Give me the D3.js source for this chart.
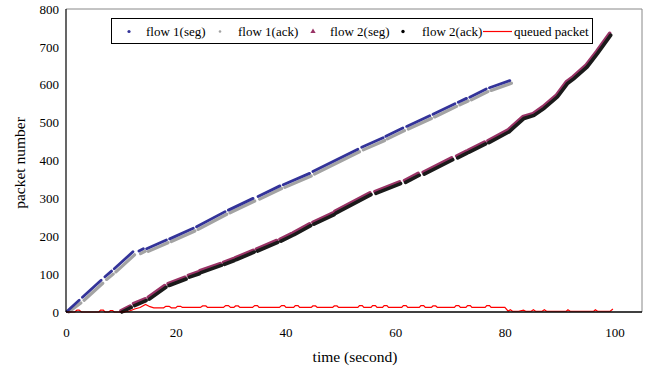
<!DOCTYPE html>
<html lang="en">
  <head>
    <meta charset="UTF-8" />
    <title>packet number vs time</title>
    <script src="https://cdn.jsdelivr.net/npm/d3@7"></script>
    <style>
      body { margin: 0; background: #fff; }
      text { font-family: "Liberation Serif", "Times New Roman", serif; fill: #000; }
    </style>
  </head>
  <body>
    <script>
    // ---- data (null = gap between dashes) ----
    const xTicks = [0, 20, 40, 60, 80, 100];
    const yTicks = [0, 100, 200, 300, 400, 500, 600, 700, 800];

    const flow1SegTime  = [0.2, 2.4, null, 3.0, 6.4, null, 7.1, 8.3, null, 8.8, 12.2, null, 13.3, 14.1, null, 14.7, 18.3, null, 18.9, 23.2, null, 23.8, 29.0, null, 29.6, 34.1, null, 35.0, 39.0, null, 39.6, 44.4, null, 45.0, 53.2, null, 53.9, 57.8, null, 58.3, 61.4, null, 62.1, 66.3, null, 66.9, 70.9, null, 71.5, 73.0, null, 73.6, 76.6, null, 77.2, 80.9];
    const flow1SegValue = [2, 31, null, 39, 84, null, 93, 108, null, 114, 159, null, 161, 167, null, 167, 190, null, 193, 221, null, 225, 265, null, 269, 300, null, 305, 333, null, 336, 366, null, 371, 430, null, 435, 460, null, 464, 486, null, 490, 518, null, 522, 550, null, 554, 564, null, 567, 589, null, 592, 611];

    const flow1AckTime  = [0.5, 2.7, null, 3.3, 6.7, null, 7.4, 8.6, null, 9.1, 12.5, null, 13.6, 14.4, null, 15.0, 18.6, null, 19.2, 23.5, null, 24.1, 29.3, null, 29.9, 34.4, null, 35.3, 39.3, null, 39.9, 44.7, null, 45.3, 53.5, null, 54.2, 58.1, null, 58.6, 61.7, null, 62.4, 66.6, null, 67.2, 71.2, null, 71.8, 73.3, null, 73.9, 76.9, null, 77.5, 81.2];
    const flow1AckValue = [0, 24, null, 31, 76, null, 86, 100, null, 106, 151, null, 154, 160, null, 160, 183, null, 186, 214, null, 218, 258, null, 262, 293, null, 298, 326, null, 329, 359, null, 364, 423, null, 428, 453, null, 457, 479, null, 483, 511, null, 515, 543, null, 547, 557, null, 560, 582, null, 585, 604];

    const flow2SegTime  = [10.0, 11.7, null, 12.3, 14.4, null, 15.0, 18.0, null, 18.6, 21.7, null, 22.3, 24.1, null, 24.4, 28.1, null, 28.7, 30.5, null, 30.8, 34.1, null, 34.7, 38.4, null, 39.0, 41.1, null, 41.4, 44.4, null, 45.0, 48.7, null, 49.0, 55.4, null, 56.3, 60.8, null, 61.7, 64.2, null, 65.1, 70.3, null, 71.2, 73.0, null, 73.3, 76.3, null, 76.9, 80.6, 81.2, 83.3, 85.1, 86.9, 89.4, 91.2, 92.4, 94.8, 96.7, 99.1];
    const flow2SegValue = [3, 16, null, 22, 35, null, 39, 70, null, 75, 92, null, 97, 106, null, 109, 128, null, 131, 141, null, 143, 163, null, 166, 189, null, 192, 207, null, 209, 233, null, 237, 262, null, 266, 315, null, 318, 344, null, 347, 366, null, 369, 407, null, 412, 425, null, 427, 449, null, 452, 481, 489, 516, 524, 542, 573, 608, 621, 652, 688, 736];

    const flow2AckTime  = [10.2, 11.9, null, 12.5, 14.6, null, 15.2, 18.2, null, 18.8, 21.9, null, 22.5, 24.3, null, 24.6, 28.3, null, 28.9, 30.7, null, 31.0, 34.3, null, 34.9, 38.6, null, 39.2, 41.3, null, 41.6, 44.6, null, 45.2, 48.9, null, 49.2, 55.6, null, 56.5, 61.0, null, 61.9, 64.4, null, 65.3, 70.5, null, 71.4, 73.2, null, 73.5, 76.5, null, 77.1, 80.8, 81.4, 83.5, 85.3, 87.1, 89.6, 91.4, 92.6, 95.0, 96.9, 99.3];
    const flow2AckValue = [0, 12, null, 17, 30, null, 34, 65, null, 70, 87, null, 92, 101, null, 104, 123, null, 126, 136, null, 138, 158, null, 161, 184, null, 187, 202, null, 204, 228, null, 232, 257, null, 261, 310, null, 313, 339, null, 342, 361, null, 364, 402, null, 407, 420, null, 422, 444, null, 447, 476, 484, 511, 519, 537, 568, 603, 616, 647, 683, 731];

    const queueTime  = [0, 1.6, 2.0, 2.4, 2.8, 6.0, 6.3, 6.8, 7.1, 7.8, 8.1, 8.5, 8.8, 10.5, 11.5, 12.5, 13.5, 14.5, 15.3, 16.0, 17.8, 18.2, 18.8, 19.2, 20.0, 20.3, 20.9, 21.2, 24.5, 24.9, 25.5, 25.8, 28.7, 29.1, 29.6, 30.0, 30.6, 30.9, 31.4, 31.7, 34.0, 34.4, 34.9, 35.2, 38.9, 39.3, 39.8, 40.1, 41.5, 41.8, 42.3, 42.6, 44.7, 45.0, 45.5, 45.8, 48.6, 48.9, 49.4, 49.7, 53.2, 53.5, 54.0, 54.3, 55.6, 55.9, 56.4, 56.7, 57.7, 58.0, 58.5, 58.8, 61.2, 61.5, 62.0, 62.3, 64.4, 64.7, 65.2, 65.5, 66.6, 66.9, 67.4, 67.7, 70.8, 71.1, 71.6, 71.9, 72.9, 73.2, 73.7, 74.0, 76.4, 76.7, 77.2, 77.5, 80.0, 80.6, 81.0, 81.4, 82.5, 83.4, 83.8, 84.8, 85.2, 85.6, 86.8, 87.2, 87.6, 91.2, 91.5, 91.9, 96.2, 96.5, 96.9, 99.2, 99.7];
    const queueValue = [0, 0, 5, 5, 0, 0, 5, 5, 0, 0, 4, 4, 0, 0, 2, 8, 12, 20, 14, 11, 11, 15, 15, 11, 11, 15, 15, 12, 12, 16, 16, 12, 12, 17, 17, 12, 12, 16, 16, 12, 12, 17, 17, 12, 12, 17, 17, 12, 12, 17, 17, 12, 12, 16, 16, 12, 12, 16, 16, 12, 12, 17, 17, 12, 12, 17, 17, 12, 12, 17, 17, 12, 12, 17, 17, 12, 12, 17, 17, 12, 12, 16, 16, 12, 12, 17, 17, 12, 12, 17, 17, 12, 12, 17, 17, 12, 12, 2, 6, 2, 2, 5, 2, 2, 6, 2, 2, 6, 2, 2, 6, 2, 2, 6, 2, 2, 8];

    const legendNames = ["flow 1(seg)", "flow 1(ack)", "flow 2(seg)", "flow 2(ack)", "queued packet"];

    // ---- chart ----
    const W = 656, H = 370;
    const svg = d3.select("body").append("svg").attr("width", W).attr("height", H);

    const x = d3.scaleLinear().domain([0, 105]).range([66, 642]);
    const y = d3.scaleLinear().domain([0, 800]).range([312, 9]);

    // frame: grey top/right, black left/bottom
    svg.append("line").attr("x1", x(0)).attr("x2", x(105)).attr("y1", y(800)).attr("y2", y(800))
      .style("stroke", "#888").style("stroke-width", 1);
    svg.append("line").attr("x1", x(105)).attr("x2", x(105)).attr("y1", y(800)).attr("y2", y(0))
      .style("stroke", "#888").style("stroke-width", 1);

    const zip = (ts, vs) => ts.map((t, i) => (t === null ? null : [t, vs[i]]));
    const line = d3.line().defined(d => d !== null).x(d => x(d[0])).y(d => y(d[1]));

    // flow 1 ack (grey) then seg (blue)
    svg.append("path").datum(zip(flow1AckTime, flow1AckValue)).attr("d", line)
      .style("fill", "none").style("stroke", "#a3a3a3").style("stroke-width", 3.2).style("stroke-linecap", "round");
    svg.append("path").datum(zip(flow1SegTime, flow1SegValue)).attr("d", line)
      .style("fill", "none").style("stroke", "#333399").style("stroke-width", 2.8).style("stroke-linecap", "round");

    // flow 2 seg (magenta) then ack (black)
    svg.append("path").datum(zip(flow2SegTime, flow2SegValue)).attr("d", line)
      .style("fill", "none").style("stroke", "#993366").style("stroke-width", 3.4).style("stroke-linecap", "round");
    svg.append("path").datum(zip(flow2AckTime, flow2AckValue)).attr("d", line)
      .style("fill", "none").style("stroke", "#1a1a1a").style("stroke-width", 3.6).style("stroke-linecap", "round");

    // queued packets
    svg.append("path").datum(zip(queueTime, queueValue)).attr("d", line)
      .style("fill", "none").style("stroke", "#ff0000").style("stroke-width", 1.2);

    // axes lines
    svg.append("line").attr("x1", x(0)).attr("x2", x(0)).attr("y1", y(800)).attr("y2", y(0))
      .style("stroke", "#000").style("stroke-width", 1.2);
    svg.append("line").attr("x1", x(0)).attr("x2", x(105)).attr("y1", y(0)).attr("y2", y(0))
      .style("stroke", "#000").style("stroke-width", 1.6);

    // tick labels
    const gx = svg.append("g").attr("transform", "translate(0," + y(0) + ")")
      .call(d3.axisBottom(x).tickValues(xTicks).tickSize(0).tickPadding(16));
    const gy = svg.append("g").attr("transform", "translate(" + x(0) + ",0)")
      .call(d3.axisLeft(y).tickValues(yTicks).tickSize(0).tickPadding(7));
    [gx, gy].forEach(g => {
      g.select(".domain").remove();
      g.selectAll("text").style("font-family", "'Liberation Serif', serif").style("font-size", "13px").style("fill", "#000");
    });

    // axis titles
    svg.append("text").attr("x", 355).attr("y", 362).attr("text-anchor", "middle")
      .style("font-size", "15.5px").text("time (second)");
    svg.append("text").attr("transform", "translate(25,163) rotate(-90)").attr("text-anchor", "middle")
      .style("font-size", "15.5px").text("packet number");

    // legend
    const lg = svg.append("g");
    lg.append("rect").attr("x", 111.5).attr("y", 18.5).attr("width", 481).attr("height", 25)
      .style("fill", "#fff").style("stroke", "#000").style("stroke-width", 1);
    const textX = [146, 238, 330, 422, 514];
    const ly = 31.5;
    lg.append("circle").attr("cx", 129).attr("cy", ly).attr("r", 1.6).style("fill", "#333399");
    lg.append("circle").attr("cx", 220).attr("cy", ly).attr("r", 1.3).style("fill", "#a3a3a3");
    lg.append("path").attr("d", d3.symbol(d3.symbolTriangle, 12)()).attr("transform", "translate(313," + ly + ")")
      .style("fill", "#993366");
    lg.append("circle").attr("cx", 403).attr("cy", ly).attr("r", 1.7).style("fill", "#000");
    lg.append("line").attr("x1", 483).attr("x2", 512).attr("y1", ly).attr("y2", ly)
      .style("stroke", "#ff0000").style("stroke-width", 1.2);
    legendNames.forEach((n, i) => {
      lg.append("text").attr("x", textX[i]).attr("y", 36).style("font-size", "13px").text(n);
    });
    </script>
  </body>
</html>
